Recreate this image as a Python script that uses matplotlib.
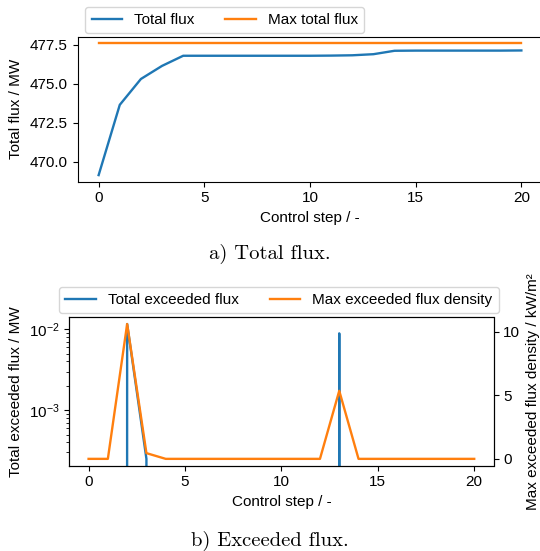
import matplotlib
matplotlib.use("Agg")
import matplotlib.pyplot as plt
import numpy as np

plt.rcParams['font.family'] = ['Liberation Sans', 'DejaVu Sans']
plt.rcParams['mathtext.fontset'] = 'custom'
plt.rcParams['mathtext.rm'] = 'Liberation Sans'
plt.rcParams['mathtext.it'] = 'Liberation Sans:italic'
plt.rcParams['mathtext.bf'] = 'Liberation Sans:bold'

# ---- data ----
steps = list(range(21))
total_flux = [469.14, 473.65, 475.31, 476.15, 476.80, 476.80, 476.80, 476.80,
              476.80, 476.80, 476.80, 476.81, 476.83, 476.90, 477.12, 477.13,
              477.13, 477.13, 477.13, 477.13, 477.14]
max_total_flux = [477.60] * 21
exceeded_flux = [0, 0, 0.0116, 2.5e-4, 0, 0, 0, 0, 0, 0, 0, 0, 0, 0.0089,
                 0, 0, 0, 0, 0, 0, 0]
max_exceeded_density = [0, 0, 10.6, 0.45, 0, 0, 0, 0, 0, 0, 0, 0, 0, 5.35,
                        0, 0, 0, 0, 0, 0, 0]
xticks = [0, 5, 10, 15, 20]

BLUE = '#1f77b4'
ORANGE = '#ff7f0e'
W, H = 540, 551
FS_TICK = 11
FS_LAB = 11

fig = plt.figure(figsize=(W / 100, H / 100), dpi=100)

def px(l, t, r, b):
    return [l / W, 1 - b / H, (r - l) / W, (b - t) / H]

# ---- top plot ----
ax1 = fig.add_axes(px(77.5, 36.7, 542.5, 181.7))
l1, = ax1.plot(steps, total_flux, color=BLUE, lw=1.7, label='Total flux')
l2, = ax1.plot(steps, max_total_flux, color=ORANGE, lw=1.7, label='Max total flux')
ax1.set_xticks(xticks)
ax1.set_xlabel('Control step / -', fontsize=FS_LAB)
ax1.set_ylabel('Total flux / MW', fontsize=FS_LAB)
ax1.yaxis.set_label_coords(-0.118, 0.5)
ax1.tick_params(labelsize=FS_TICK)
fig.legend(handles=[l1, l2], loc='lower left', ncol=2, fontsize=FS_LAB,
           bbox_to_anchor=(85.4 / W, 1 - 33.4 / H), borderaxespad=0)

# ---- bottom plot ----
ax2 = fig.add_axes(px(69.3, 317.3, 493.5, 465.6))
ax2.set_yscale('log')
b1, = ax2.plot(steps, exceeded_flux, color=BLUE, lw=1.7, label='Total exceeded flux')
ax3 = ax2.twinx()
b2, = ax3.plot(steps, max_exceeded_density, color=ORANGE, lw=1.7,
               label='Max exceeded flux density')
ax2.set_xticks(xticks)
ax2.set_xlabel('Control step / -', fontsize=FS_LAB)
ax2.set_ylabel('Total exceeded flux / MW', fontsize=FS_LAB)
ax3.set_ylabel('Max exceeded flux density / kW/m²', fontsize=FS_LAB)
ax3.set_yticks([0, 5, 10])
ax2.tick_params(labelsize=FS_TICK)
ax3.tick_params(labelsize=FS_TICK)
fig.legend(handles=[b1, b2], loc='lower center', ncol=2, fontsize=FS_LAB,
           bbox_to_anchor=(279 / W, 1 - 313.4 / H), borderaxespad=0)

# ---- captions ----
fig.text(269.6 / W, 1 - 254 / H, 'a) Total flux.', ha='center', va='center',
         family='cmr10', fontsize=14.8)
fig.text(270 / W, 1 - 541 / H, 'b) Exceeded flux.', ha='center', va='center',
         family='cmr10', fontsize=14.8)

fig.savefig('out.png', dpi=100)
